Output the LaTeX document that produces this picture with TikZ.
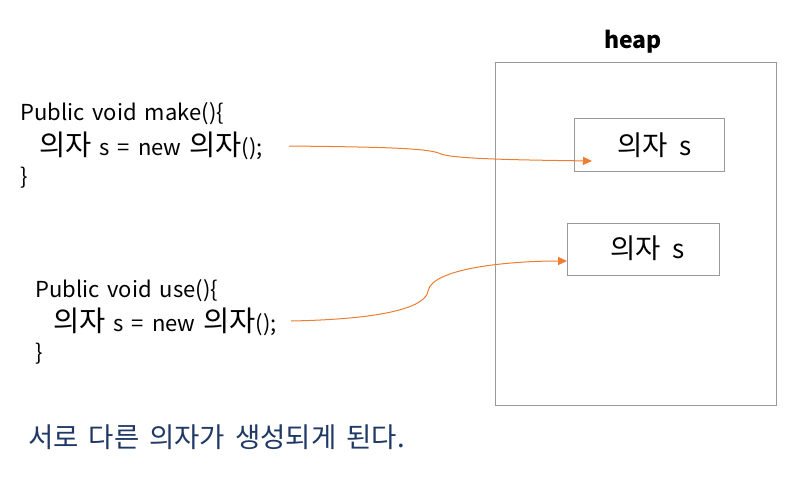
\documentclass[tikz,border=0pt]{standalone}
\usepackage{fontspec}
\setmainfont{Noto Sans CJK KR}
\usetikzlibrary{arrows.meta}
\definecolor{arrowc}{RGB}{237,125,49}
\definecolor{navy}{RGB}{31,56,100}
\newcommand{\ko}[1]{{\fontsize{27.5}{30}\selectfont #1}}
\newcommand{\kc}[1]{{\fontsize{28.5}{30}\selectfont #1}}
\newcommand{\wsp}{\spaceskip=10pt plus 1pt\relax}
\newcommand{\csp}{\spaceskip=8pt plus 1pt\relax}
\begin{document}
\begin{tikzpicture}[x=1pt,y=-1pt,
  txt/.style={inner sep=0pt,font=\fontsize{26}{28}\selectfont\wsp,anchor=base west},
  code/.style={inner sep=0pt,font=\fontsize{22}{28}\selectfont\csp,anchor=base west},
  box/.style={draw=black!40,line width=0.8pt,inner sep=0pt},
  link/.style={draw=arrowc,line width=1pt,-{Triangle[length=9pt,width=8pt]}}]
\useasboundingbox (0,0) rectangle (799,476);
% heap
\node[box,minimum width=281pt,minimum height=343pt] (heap) at (635.5,233.5) {};
\node[inner sep=0pt,font=\bfseries\fontsize{23}{26}\selectfont] (heaplbl) at (633,42) {heap};
\node[box,minimum width=150pt,minimum height=53pt] (b1) at (649,144.5) {};
\node[txt] (t1) at (617,155) {\ko{의자}\hspace{2pt} s};
\node[box,minimum width=152pt,minimum height=52pt] (b2) at (643,249) {};
\node[txt] (t2) at (610,258) {\ko{의자}\hspace{2pt} s};
% code 1
\node[code] (m1) at (20,120) {Public void make()\{};
\node[code] (m2) at (39,155) {\kc{의자} s = new \kc{의자}();};
\node[code] (m3) at (20,184) {\}};
% code 2
\node[code] (u1) at (35,297) {Public void use()\{};
\node[code] (u2) at (53,331) {\kc{의자} s = new \kc{의자}();};
\node[code] (u3) at (35,360) {\}};
% bottom
\node[txt,text=navy] (note) at (28,447) {\ko{\wsp 서로 다른 의자가 생성되게 된다.}};
% arrows
\coordinate (a1s) at (289,146);
\coordinate (a1k) at (441,154);
\coordinate (a1e) at (592,161);
\coordinate (a2s) at (291,321);
\coordinate (a2k) at (428,291);
\coordinate (a2e) at (567,261);
\draw[link] (a1s) .. controls (380,147) and (430,148) .. (a1k) .. controls (455,159) and (520,160) .. (a1e);
\draw[link] (a2s) .. controls (390,319) and (426,306) .. (a2k) .. controls (432,268) and (510,261) .. (a2e);
\end{tikzpicture}
\end{document}
